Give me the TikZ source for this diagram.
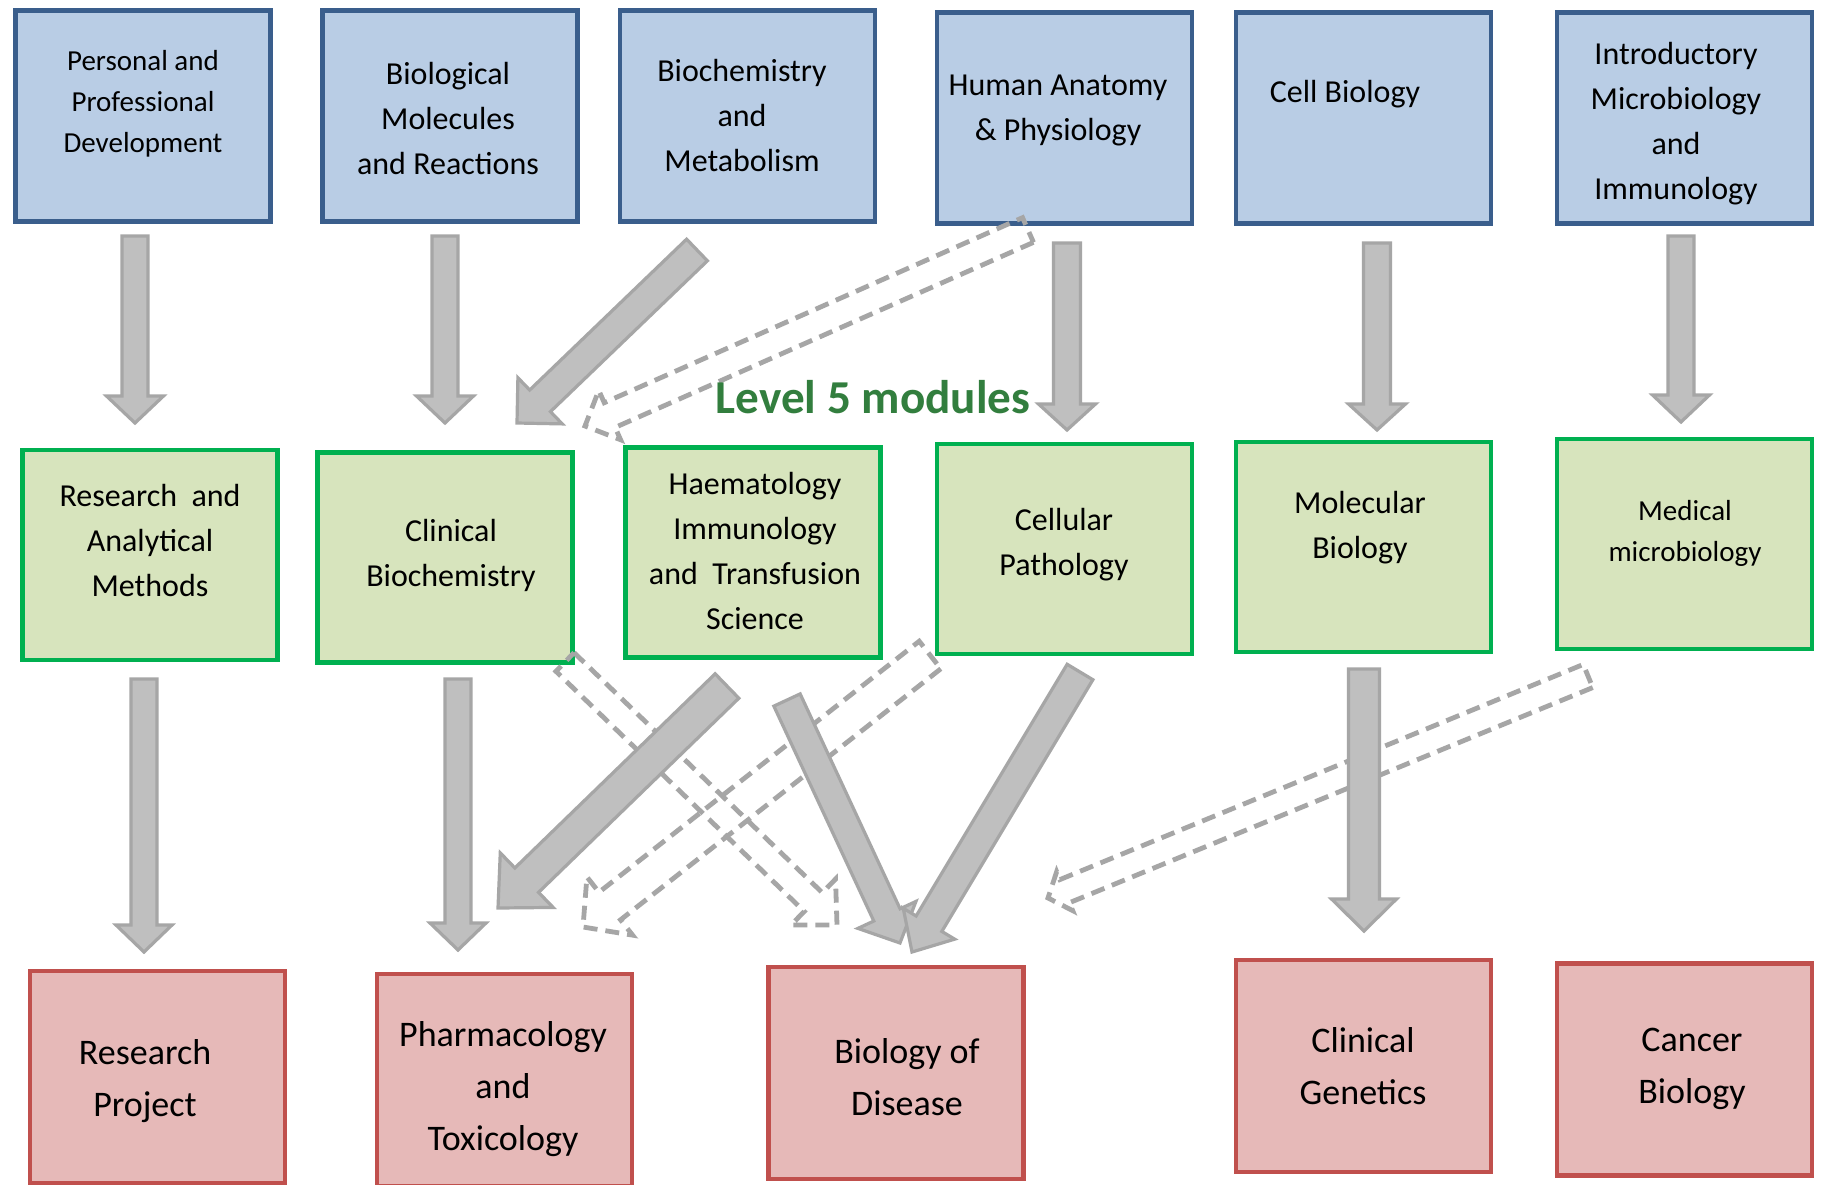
\documentclass[tikz,border=0pt]{standalone}
\usepackage{fontspec}
\setmainfont{Carlito}
\usetikzlibrary{calc}
\definecolor{bfill}{HTML}{B9CDE5}
\definecolor{bline}{HTML}{3A5E8C}
\definecolor{gfill}{HTML}{D7E4BD}
\definecolor{gline}{HTML}{00B050}
\definecolor{rfill}{HTML}{E6B9B8}
\definecolor{rline}{HTML}{C0504D}
\definecolor{afill}{HTML}{BFBFBF}
\definecolor{aline}{HTML}{A6A6A6}
\definecolor{lvl}{RGB}{50,126,62}
\tikzset{
  box/.style={draw, line width=2.2pt, inner sep=0pt, minimum width=127.5pt},
  bluebox/.style={box, fill=bfill, draw=bline, minimum height=105.5pt},
  greenbox/.style={box, fill=gfill, draw=gline, minimum height=105pt},
  redbox/.style={box, fill=rfill, draw=rline, minimum height=106pt},
  txt/.style={align=center, inner sep=0pt, yshift=-1.5pt, font=\fontsize{16}{22.5}\selectfont},
  smalltxt/.style={align=center, inner sep=0pt, yshift=-1.5pt, font=\fontsize{14.5}{20.5}\selectfont},
  bigtxt/.style={align=center, inner sep=0pt, yshift=-1.5pt, font=\fontsize{18}{26}\selectfont},
  solidarrow/.style={fill=afill, draw=aline, line width=1.6pt, line join=miter},
  dasharrow/.style={draw=aline, line width=2.4pt, dash pattern=on 7pt off 4pt, line join=miter}
}
% #1 style, #2 tail, #3 tip, #4 half shaft, #5 half head, #6 head length
\newcommand\barrow[6]{%
  \coordinate (bh) at ($(#3)!#6!(#2)$);
  \draw[#1] ($(#2)!#4!90:(#3)$) -- ($(bh)!#4!90:(#3)$) -- ($(bh)!#5!90:(#3)$) -- (#3)
    -- ($(bh)!#5!-90:(#3)$) -- ($(bh)!#4!-90:(#3)$) -- ($(#2)!#4!-90:(#3)$) -- cycle;}
\begin{document}
\begin{tikzpicture}[x=0.5pt,y=-0.5pt]
\useasboundingbox[fill=white] (0,0) rectangle (1821,1184);
% Level 4 boxes
\node[bluebox] (p1) at (143,116) {};
\node[bluebox] (p2) at (450,116) {};
\node[bluebox] (p3) at (747.5,116) {};
\node[bluebox] (p4) at (1064.5,118) {};
\node[bluebox] (p5) at (1363.5,118) {};
\node[bluebox] (p6) at (1684.5,118) {};
\node[smalltxt] (p1t) at (143,101) {Personal and\\Professional\\Development};
\node[txt] (p2t) at (448,116) {Biological\\Molecules\\and Reactions};
\node[txt] (p3t) at (742,113) {Biochemistry\\and\\Metabolism};
\node[txt] (p4t) at (1058,107) {Human Anatomy\\\& Physiology};
\node[txt] (p5t) at (1345,91) {Cell Biology};
\node[txt] (p6t) at (1676,121) {Introductory\\Microbiology\\and\\Immunology};
% Level 5 boxes
\node[greenbox] (m1) at (150,555) {};
\node[greenbox] (m2) at (445,557.5) {};
\node[greenbox] (m3) at (753,552.5) {};
\node[greenbox] (m4) at (1064.5,549) {};
\node[greenbox] (m5) at (1363.5,547) {};
\node[greenbox] (m6) at (1684.5,544) {};
\node[txt] (m1t) at (150,537) {Research\ \ and\\Analytical\\Methods};
\node[txt] (m2t) at (451,552) {Clinical\\Biochemistry};
\node[txt] (m3t) at (755,548) {Haematology\\Immunology\\and\ \ Transfusion\\Science};
\node[txt] (m4t) at (1064,542) {Cellular\\Pathology};
\node[txt] (m5t) at (1360,525) {Molecular\\Biology};
\node[smalltxt] (m6t) at (1685,530) {Medical\\microbiology};
% Level 6 boxes
\node[redbox] (b1) at (157.5,1077) {};
\node[redbox] (b2) at (504.5,1080) {};
\node[redbox] (b3) at (896,1073) {};
\node[redbox] (b4) at (1363.5,1066) {};
\node[redbox] (b5) at (1684.5,1069.5) {};
\node[bigtxt] (b1t) at (145,1078) {Research\\Project};
\node[bigtxt] (b2t) at (503,1086) {Pharmacology\\and\\Toxicology};
\node[bigtxt] (b3t) at (907,1074) {Biology of\\Disease};
\node[bigtxt] (b4t) at (1363,1063) {Clinical\\Genetics};
\node[bigtxt] (b5t) at (1692,1066) {Cancer\\Biology};
% connector end points
\coordinate (a1s) at (135,236);  \coordinate (a1e) at (135,423);
\coordinate (a2s) at (445,236);  \coordinate (a2e) at (445,423);
\coordinate (a3s) at (697,250);  \coordinate (a3e) at (517,423);
\coordinate (a4s) at (1028,230); \coordinate (a4e) at (585,426);
\coordinate (a5s) at (1067,243); \coordinate (a5e) at (1067,430);
\coordinate (a6s) at (1377,243); \coordinate (a6e) at (1377,430);
\coordinate (a7s) at (1681,236); \coordinate (a7e) at (1681,422);
\coordinate (c1s) at (144,679);  \coordinate (c1e) at (144,952);
\coordinate (c2s) at (458,679);  \coordinate (c2e) at (458,950);
\coordinate (c3s) at (565,662);  \coordinate (c3e) at (837,925);
\coordinate (c4s) at (727,686);  \coordinate (c4e) at (498,908);
\coordinate (c5s) at (930,655);  \coordinate (c5e) at (583,927);
\coordinate (c6s) at (787,700);  \coordinate (c6e) at (900,943);
\coordinate (c7s) at (1080,672); \coordinate (c7e) at (912,952);
\coordinate (c8s) at (1364,669); \coordinate (c8e) at (1364,931);
\coordinate (c9s) at (1588,676); \coordinate (c9e) at (1048,898);
% dashed arrows (below)
\barrow{dasharrow}{a4s}{a4e}{6.75pt}{13.5pt}{13.5pt}
\barrow{dasharrow}{c3s}{c3e}{6.5pt}{16pt}{16.5pt}
\barrow{dasharrow}{c5s}{c5e}{8.75pt}{18.5pt}{17pt}
\barrow{dasharrow}{c9s}{c9e}{6.25pt}{10.5pt}{9pt}
% solid arrows
\barrow{solidarrow}{a1s}{a1e}{6.5pt}{14.25pt}{13.5pt}
\barrow{solidarrow}{a2s}{a2e}{6.5pt}{14.25pt}{13.5pt}
\barrow{solidarrow}{a3s}{a3e}{7.5pt}{16pt}{16pt}
\barrow{solidarrow}{a5s}{a5e}{6.75pt}{14.25pt}{13pt}
\barrow{solidarrow}{a6s}{a6e}{6.75pt}{14.25pt}{13pt}
\barrow{solidarrow}{a7s}{a7e}{6.5pt}{14.25pt}{13.5pt}
\barrow{solidarrow}{c1s}{c1e}{6.5pt}{14pt}{13.5pt}
\barrow{solidarrow}{c2s}{c2e}{6.5pt}{14pt}{13.5pt}
\barrow{solidarrow}{c4s}{c4e}{8.5pt}{19pt}{20pt}
\barrow{solidarrow}{c6s}{c6e}{7.25pt}{16pt}{15.5pt}
\barrow{solidarrow}{c7s}{c7e}{7.5pt}{15pt}{16.5pt}
\barrow{solidarrow}{c8s}{c8e}{7.75pt}{16.25pt}{16pt}
% title
\node[anchor=base, inner sep=0pt, text=lvl, font=\bfseries\fontsize{23.6}{28}\selectfont] (lvl5) at (873,413) {Level 5 modules};
\end{tikzpicture}
\end{document}
